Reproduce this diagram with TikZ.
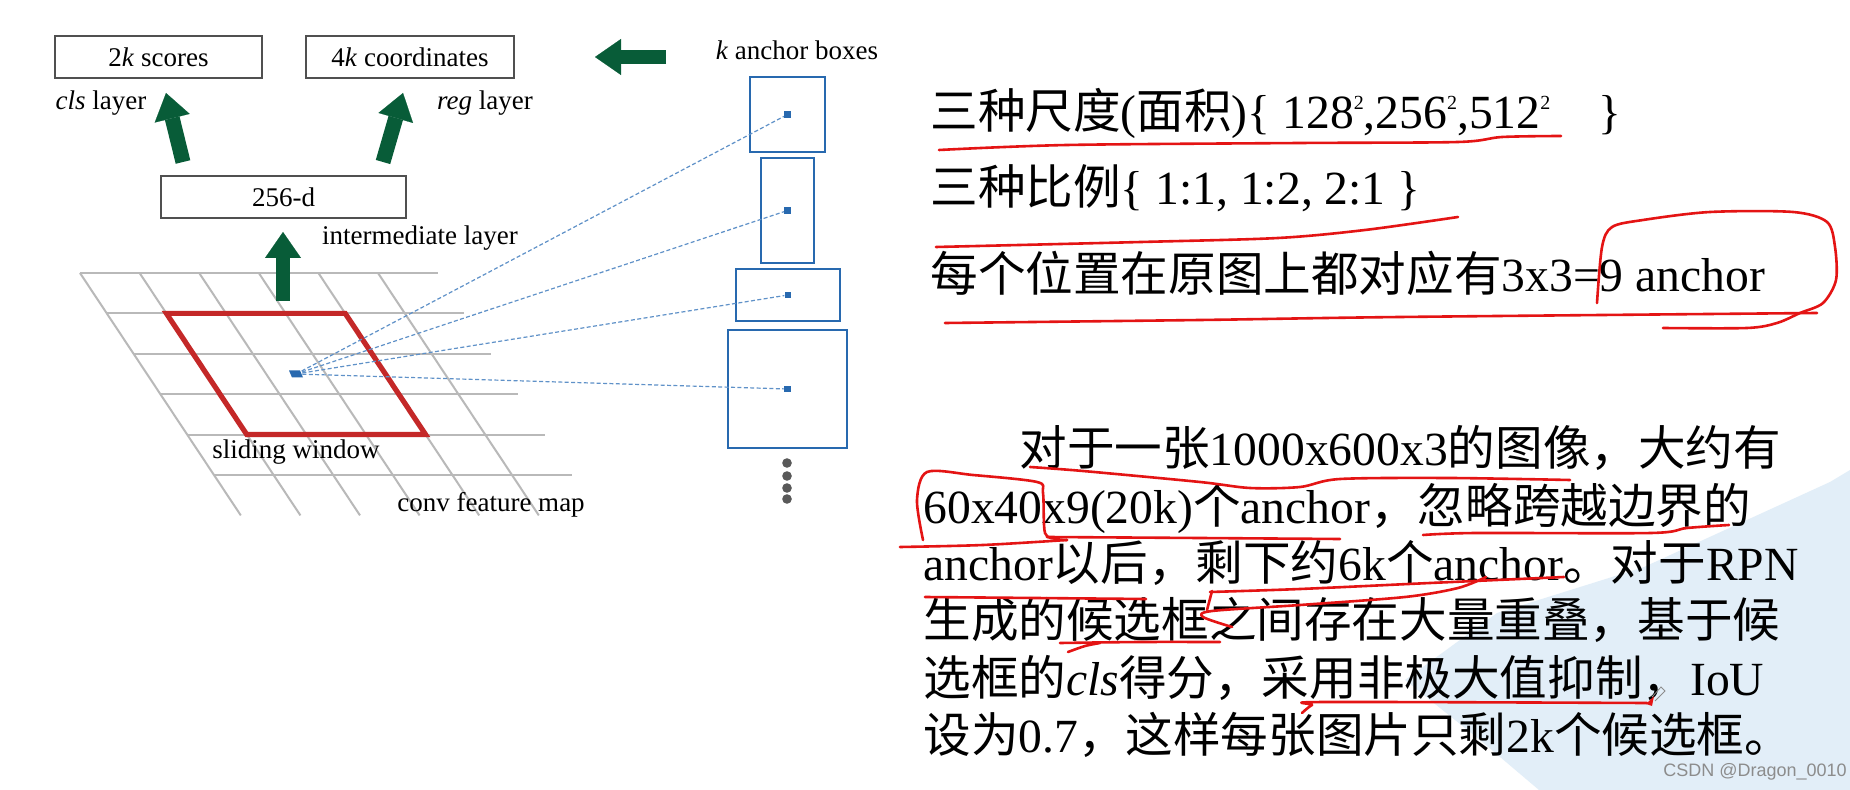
\documentclass[tikz,border=0pt]{standalone}
\usepackage{fontspec}
\setmainfont{Liberation Serif}
\newfontfamily\cjk{Noto Sans CJK SC}
\newfontfamily\wmark{Liberation Sans}
\usetikzlibrary{arrows.meta}

\definecolor{arrowgreen}{RGB}{8,92,56}
\definecolor{windowred}{RGB}{196,40,40}
\definecolor{anchorblue}{RGB}{40,105,175}
\definecolor{rayblue}{RGB}{95,145,200}
\definecolor{gridgray}{RGB}{185,185,185}
\definecolor{boxgray}{RGB}{80,80,80}
\definecolor{inkred}{RGB}{228,20,20}
\definecolor{wedgeblue}{RGB}{226,238,248}
\newcommand{\sqr}{\raisebox{9.5pt}{\fontsize{10}{10}\selectfont 2}}

\begin{document}
\begin{tikzpicture}[x=0.5pt,y=-0.5pt,
    lbl/.style={font=\fontsize{13.5}{16}\selectfont, inner sep=0pt},
    layerbox/.style={draw=boxgray, line width=1pt, inner sep=0pt, font=\fontsize{13.5}{16}\selectfont},
    anchorbox/.style={draw=anchorblue, line width=1.1pt, inner sep=0pt},
    boxdot/.style={fill=anchorblue, minimum size=3.2pt, inner sep=0pt},
    ray/.style={draw=rayblue, line width=0.6pt, dash pattern=on 2pt off 1.2pt},
    fatarrow/.style={draw=arrowgreen, line width=7.5pt, -{Triangle[length=13pt,width=18pt,line width=0.1pt]}},
    gridline/.style={draw=gridgray, line width=1pt},
    note/.style={anchor=base west, inner sep=0pt, font=\fontsize{23.8}{28}\selectfont},
    redink/.style={draw=inkred, line width=1.3pt, line cap=round, line join=round}]
    \fill[white] (0,0) rectangle (1850,790);
    \useasboundingbox (0,0) rectangle (1850,790);
    \fill[wedgeblue] (1850,470) -- (1830,482) -- (1644,567) -- (1497,613) -- (1405,680)
        -- (1480,740) -- (1539,790) -- (1850,790) -- cycle;

    % conv feature map
    \foreach \i in {0,...,5}
        \draw[gridline] ({80+26.8*\i},{273+40.4*\i}) -- ++(357.6,0);
    \foreach \j in {0,...,5}
        \draw[gridline] ({80+59.6*\j},273) -- ++(160.8,242.4);
    \draw[windowred, line width=2.6pt, line join=miter]
        (166.4,313.4) -- (345.2,313.4) -- (425.6,434.6) -- (246.8,434.6) -- cycle;
    \coordinate (ctr) at (296,374);

    % anchor boxes
    \node[anchorbox, minimum width=37.5pt, minimum height=37.5pt] (box1) at (787.5,114.5) {};
    \node[anchorbox, minimum width=26.5pt, minimum height=52.5pt] (box2) at (787.5,210.5) {};
    \node[anchorbox, minimum width=52pt, minimum height=26pt] (box3) at (788,295) {};
    \node[anchorbox, minimum width=59.5pt, minimum height=59pt] (box4) at (787.5,389) {};
    \foreach \b in {1,...,4}
        \node[boxdot] (dot\b) at (box\b.center) {};
    \foreach \b in {1,...,4}
        \draw[ray] (ctr) -- (dot\b);
    \fill[anchorblue] (ctr) ++(-7,-3.5) -- ++(11,0) -- ++(3,7) -- ++(-11,0) -- cycle;
    \foreach \y in {463,476,488,499}
        \fill[black!65] (787,\y) circle (2.4pt);

    % layers
    \node[layerbox, minimum width=103.5pt, minimum height=21pt] (scores) at (158.5,57) {2\textit{k} scores};
    \node[layerbox, minimum width=104pt, minimum height=21pt] (coords) at (410,57) {4\textit{k} coordinates};
    \node[layerbox, minimum width=122.5pt, minimum height=21pt] (inter) at (283.5,197) {256-d};
    \node[lbl] (clslbl) at (101,103) {\textit{cls} layer};
    \node[lbl] (reglbl) at (485,103) {\textit{reg} layer};
    \node[lbl] (interlbl) at (420,238) {intermediate layer};
    \node[lbl] (kboxes) at (797,50) {\textit{k} anchor boxes};
    \node[lbl] (slidelbl) at (296,452) {sliding window};
    \node[lbl] (maplbl) at (491,505) {conv feature map};

    \coordinate (clsfoot) at (183,162);
    \coordinate (clshead) at (166,93);
    \coordinate (regfoot) at (383,162);
    \coordinate (reghead) at (403,93);
    \coordinate (midfoot) at (283,301);
    \coordinate (midhead) at (283,232);
    \coordinate (boxfoot) at (666,57);
    \coordinate (boxhead) at (595,57);
    \draw[fatarrow] (clsfoot) -- (clshead);
    \draw[fatarrow] (regfoot) -- (reghead);
    \draw[fatarrow, line width=7pt] (midfoot) -- (midhead);
    \draw[fatarrow, line width=7pt] (boxfoot) -- (boxhead);

    % notes on the right
    \node[note] (scale1) at (930,129) {{\cjk 三种尺度}({\cjk 面积})\{ 128\sqr,256\sqr,512\sqr\ \ \ \ \}};
    \node[note] (ratio1) at (930,205) {{\cjk 三种比例}\{ 1:1, 1:2, 2:1 \}};
    \node[note] (count1) at (930,292) {{\cjk 每个位置在原图上都对应有}3x3=9 anchor};
    \node[note] (p1) at (1019,466) {{\cjk 对于一张}1000x600x3{\cjk 的图像，大约有}};
    \node[note] (p2) at (923,523) {60x40x9(20k){\cjk 个}anchor{\cjk ，忽略跨越边界的}};
    \node[note] (p3) at (923,580) {anchor{\cjk 以后，剩下约}6k{\cjk 个}anchor{\cjk 。对于}RPN};
    \node[note] (p4) at (923,637) {{\cjk 生成的候选框之间存在大量重叠，基于候}};
    \node[note] (p5) at (923,695) {{\cjk 选框的}\textit{cls}{\cjk 得分，采用非极大值抑制，}IoU};
    \node[note] (p6) at (923,752) {{\cjk 设为}0.7{\cjk ，这样每张图片只剩}2k{\cjk 个候选框。}};

    % red pen marks
    \draw[redink] plot[smooth] coordinates {(939,150) (1067,145) (1300,143) (1458,142) (1502,137) (1561,136)};
    \draw[redink] plot[smooth] coordinates {(936,247) (1141,242) (1278,238) (1365,230) (1458,217)};
    \draw[redink] plot[smooth] coordinates {(945,323) (1200,320) (1400,317) (1817,313)};
    \draw[redink] plot[smooth] coordinates {(1597,303) (1602,247) (1612,227) (1643,220) (1710,212) (1793,212)
        (1827,222) (1835,247) (1836,280) (1823,303) (1800,313) (1777,323) (1747,328) (1663,328)};
    \draw[redink] plot[smooth] coordinates {(1030,467) (1083,471) (1200,482) (1250,488) (1300,487)
        (1340,479) (1450,478) (1570,480)};
    \draw[redink] plot[smooth] coordinates {(923,540) (917,500) (927,472) (973,475) (1037,482)
        (1043,493) (1045,533) (1057,539) (1067,540)};
    \draw[redink] plot[smooth] coordinates {(900,547) (983,545) (1067,540)};
    \draw[redink] plot[smooth] coordinates {(1047,537) (1200,538) (1340,539)};
    \draw[redink] plot[smooth] coordinates {(1423,535) (1476,533) (1651,533) (1687,528) (1729,525)};
    \draw[redink] (925,597) -- (1146,599);
    \draw[redink] (1212,591) -- (1207,610);
    \draw[redink] plot[smooth] coordinates {(1210,592) (1300,589) (1430,583) (1564,577)};
    \draw[redink] plot[smooth] coordinates {(1232,627) (1203,617) (1212,611) (1300,605) (1405,597)
        (1458,588) (1486,577)};
    \draw[redink] plot[smooth] coordinates {(1060,643) (1140,642) (1220,642)};
    \draw[redink] plot[smooth] coordinates {(1068,652) (1085,646) (1100,643)};
    \draw[redink] plot[smooth] coordinates {(1302,713) (1312,705) (1325,702) (1647,703)};
    \fill[inkred] (1646,704) -- (1654,696) -- (1652,706) -- cycle;
    \draw[black!45, line width=0.4pt] (1652,697) -- (1661,687) -- (1665,691) -- (1655,701);

    \node[font=\wmark\fontsize{9}{10}\selectfont, text=black!45, inner sep=0pt] (mark) at (1755,772) {CSDN @Dragon\_0010};
\end{tikzpicture}
\end{document}
